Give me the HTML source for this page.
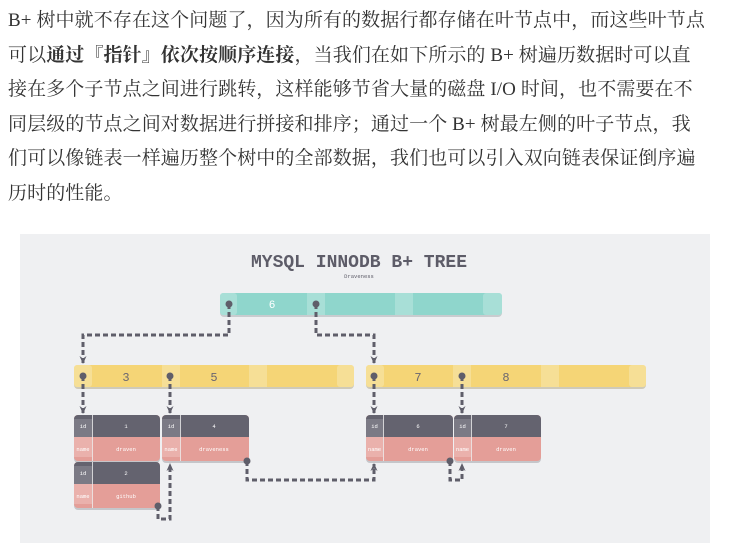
<!DOCTYPE html>
<html><head><meta charset="utf-8"><style>
body{margin:0;width:730px;height:556px;background:#fff;position:relative;overflow:hidden}
.t{position:absolute;left:8px;top:4px;font-family:"Liberation Serif","Noto Serif CJK SC",serif;font-size:19px;line-height:34.6px;color:#333;white-space:nowrap;letter-spacing:0.1px}
svg{position:absolute;left:0;top:0}
</style></head><body>
<div class="t">B+ 树中就不存在这个问题了，因为所有的数据行都存储在叶节点中，而这些叶节点<br>可以<b>通过『指针』依次按顺序连接</b>，当我们在如下所示的 B+ 树遍历数据时可以直<br>接在多个子节点之间进行跳转，这样能够节省大量的磁盘 I/O 时间，也不需要在不<br>同层级的节点之间对数据进行拼接和排序；通过一个 B+ 树最左侧的叶子节点，我<br>们可以像链表一样遍历整个树中的全部数据，我们也可以引入双向链表保证倒序遍<br>历时的性能。</div>
<svg width="730" height="556" xmlns="http://www.w3.org/2000/svg" font-family="Liberation Mono, monospace">
<defs>
<marker id="a" markerUnits="userSpaceOnUse" markerWidth="8" markerHeight="8" refX="7" refY="4" orient="auto"><path d="M0,0.5 L8,4 L0,7.5 L2.5,4 Z" fill="#5f5e6a"/></marker>
</defs>
<rect x="20" y="234" width="690" height="309" fill="#eff0f2"/>
<text x="359" y="267" text-anchor="middle" font-size="18" font-weight="bold" fill="#5d5c68">MYSQL INNODB B+ TREE</text>
<text x="359" y="278" text-anchor="middle" font-size="5.5" fill="#5d5c68">Draveness</text>
<rect x="220" y="295" width="282" height="22" rx="4" fill="#c9cccf"/>
<rect x="220" y="293" width="282" height="22" rx="4" fill="#8fd6cc"/>
<g fill="#a8dfd7"><rect x="220" y="293" width="17" height="22" rx="3"/><rect x="307" y="293" width="18" height="22"/><rect x="395" y="293" width="18" height="22"/><rect x="483" y="293" width="19" height="22" rx="3"/></g>
<text x="272" y="308" text-anchor="middle" font-size="11" fill="#fff">6</text>
<rect x="74" y="367" width="280" height="22" rx="4" fill="#cfcab8"/>
<rect x="74" y="365" width="280" height="22" rx="4" fill="#f5d576"/>
<g fill="#f6df96"><rect x="74" y="365" width="18" height="22" rx="3"/><rect x="162" y="365" width="18" height="22"/><rect x="249" y="365" width="18" height="22"/><rect x="337" y="365" width="17" height="22" rx="3"/></g>
<rect x="366" y="367" width="280" height="22" rx="4" fill="#cfcab8"/>
<rect x="366" y="365" width="280" height="22" rx="4" fill="#f5d576"/>
<g fill="#f6df96"><rect x="366" y="365" width="18" height="22" rx="3"/><rect x="453" y="365" width="18" height="22"/><rect x="541" y="365" width="18" height="22"/><rect x="629" y="365" width="17" height="22" rx="3"/></g>
<g font-size="12" fill="#6a6670" text-anchor="middle"><text x="126" y="381">3</text><text x="214" y="381">5</text><text x="418" y="381">7</text><text x="506" y="381">8</text></g>
<g font-size="5.5" text-anchor="middle">
<g transform="translate(74,415)"><rect y="2" width="86" height="46" rx="4" fill="#c5c6ca"/><rect width="86" height="46" rx="4" fill="#e49e98"/><path d="M0,22 V4 a4,4 0 0 1 4,-4 H82 a4,4 0 0 1 4,4 V22Z" fill="#64636f"/><rect x="0" y="4" width="18" height="18" fill="#7b7a85"/><rect x="0" y="22" width="18" height="20" fill="#eab1ac"/><rect x="18" y="0" width="0.8" height="46" fill="#eee"/><text x="9" y="13" fill="#fff">id</text><text x="52" y="13" fill="#fff">1</text><text x="9" y="36" fill="#fff">name</text><text x="52" y="36" fill="#fff">draven</text></g>
<g transform="translate(74,462)"><rect y="2" width="86" height="46" rx="4" fill="#c5c6ca"/><rect width="86" height="46" rx="4" fill="#e49e98"/><path d="M0,22 V4 a4,4 0 0 1 4,-4 H82 a4,4 0 0 1 4,4 V22Z" fill="#64636f"/><rect x="0" y="4" width="18" height="18" fill="#7b7a85"/><rect x="0" y="22" width="18" height="20" fill="#eab1ac"/><rect x="18" y="0" width="0.8" height="46" fill="#eee"/><text x="9" y="13" fill="#fff">id</text><text x="52" y="13" fill="#fff">2</text><text x="9" y="36" fill="#fff">name</text><text x="52" y="36" fill="#fff">github</text></g>
<g transform="translate(162,415)"><rect y="2" width="87" height="46" rx="4" fill="#c5c6ca"/><rect width="87" height="46" rx="4" fill="#e49e98"/><path d="M0,22 V4 a4,4 0 0 1 4,-4 H83 a4,4 0 0 1 4,4 V22Z" fill="#64636f"/><rect x="0" y="4" width="18" height="18" fill="#7b7a85"/><rect x="0" y="22" width="18" height="20" fill="#eab1ac"/><rect x="18" y="0" width="0.8" height="46" fill="#eee"/><text x="9" y="13" fill="#fff">id</text><text x="52" y="13" fill="#fff">4</text><text x="9" y="36" fill="#fff">name</text><text x="52" y="36" fill="#fff">draveness</text></g>
<g transform="translate(366,415)"><rect y="2" width="87" height="46" rx="4" fill="#c5c6ca"/><rect width="87" height="46" rx="4" fill="#e49e98"/><path d="M0,22 V4 a4,4 0 0 1 4,-4 H83 a4,4 0 0 1 4,4 V22Z" fill="#64636f"/><rect x="0" y="4" width="17" height="18" fill="#7b7a85"/><rect x="0" y="22" width="17" height="20" fill="#eab1ac"/><rect x="17" y="0" width="0.8" height="46" fill="#eee"/><text x="8.5" y="13" fill="#fff">id</text><text x="52" y="13" fill="#fff">6</text><text x="8.5" y="36" fill="#fff">name</text><text x="52" y="36" fill="#fff">draven</text></g>
<g transform="translate(454,415)"><rect y="2" width="87" height="46" rx="4" fill="#c5c6ca"/><rect width="87" height="46" rx="4" fill="#e49e98"/><path d="M0,22 V4 a4,4 0 0 1 4,-4 H83 a4,4 0 0 1 4,4 V22Z" fill="#64636f"/><rect x="0" y="4" width="17" height="18" fill="#7b7a85"/><rect x="0" y="22" width="17" height="20" fill="#eab1ac"/><rect x="17" y="0" width="0.8" height="46" fill="#eee"/><text x="8.5" y="13" fill="#fff">id</text><text x="52" y="13" fill="#fff">7</text><text x="8.5" y="36" fill="#fff">name</text><text x="52" y="36" fill="#fff">draven</text></g>
</g>
<g fill="none" stroke="#5f5e6a" stroke-width="3" stroke-dasharray="5,3">
<path d="M229,304 V335 H83 V363" marker-end="url(#a)"/>
<path d="M316,304 V335 H374 V363" marker-end="url(#a)"/>
<path d="M83,376 V413" marker-end="url(#a)"/>
<path d="M170,376 V413" marker-end="url(#a)"/>
<path d="M374,376 V413" marker-end="url(#a)"/>
<path d="M462,376 V413" marker-end="url(#a)"/>
<path d="M158,506 V519 H170 V464" marker-end="url(#a)"/>
<path d="M247,461 V480 H374 V464" marker-end="url(#a)"/>
<path d="M450,461 V480 H462 V464" marker-end="url(#a)"/>
</g>
<g fill="#5f5e6a">
<circle cx="229" cy="304" r="3.5"/><circle cx="316" cy="304" r="3.5"/>
<circle cx="83" cy="376" r="3.5"/><circle cx="170" cy="376" r="3.5"/><circle cx="374" cy="376" r="3.5"/><circle cx="462" cy="376" r="3.5"/>
<circle cx="158" cy="506" r="3.5"/><circle cx="247" cy="461" r="3.5"/><circle cx="450" cy="461" r="3.5"/>
</g>
</svg>
</body></html>
